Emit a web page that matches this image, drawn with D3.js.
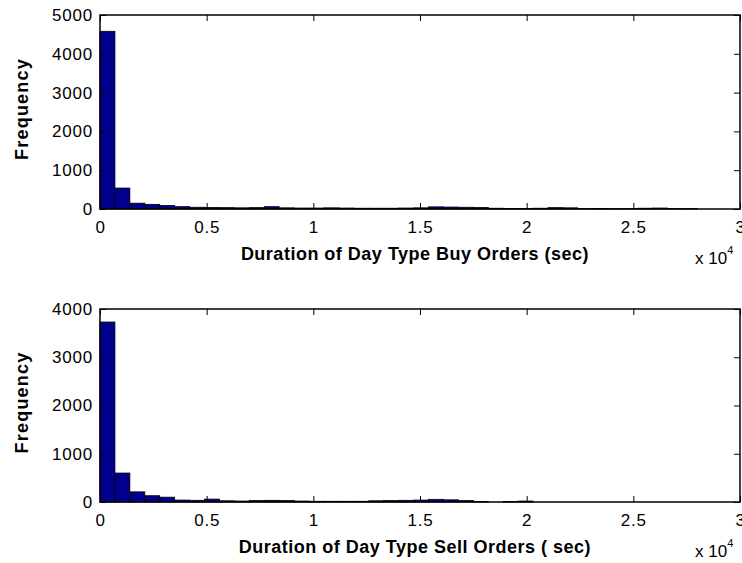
<!DOCTYPE html>
<html>
<head>
<meta charset="utf-8">
<script src="https://cdn.jsdelivr.net/npm/d3@7"></script>
<style>
  body { margin: 0; background: #fff; }
  svg text { font-family: "Liberation Sans", Arial, sans-serif; }
</style>
</head>
<body>
<svg id="chart" width="742" height="563"></svg>
<script>
// histogram bins: 700 sec wide, starting at 0
var binWidth = 700;

var buyCounts = [4580, 540, 150, 120, 90, 60, 45, 40, 35, 30,
                 35, 60, 30, 25, 25, 30, 25, 20, 20, 20,
                 25, 30, 55, 50, 45, 40, 20, 15, 15, 20,
                 35, 30, 10, 15, 10, 10, 20, 25, 10, 10];

var sellCounts = [3730, 600, 210, 130, 100, 40, 35, 60, 25, 20,
                  30, 35, 30, 20, 15, 15, 15, 15, 25, 30,
                  35, 40, 55, 45, 30, 10, 0, 10, 20, 0,
                  0, 0, 0, 0, 0, 0, 0, 0, 0, 0];

var xTicks = [0, 5000, 10000, 15000, 20000, 25000, 30000];
var xTickLabels = ["0", "0.5", "1", "1.5", "2", "2.5", "3"];

var panels = [
  {counts: buyCounts, ymax: 5000, yTicks: [0, 1000, 2000, 3000, 4000, 5000],
   label: "Duration of Day Type Buy Orders (sec)", top: 15, bottom: 209},
  {counts: sellCounts, ymax: 4000, yTicks: [0, 1000, 2000, 3000, 4000],
   label: "Duration of Day Type Sell Orders ( sec)", top: 309, bottom: 502}
];

var svg = d3.select("#chart"),
    left = 100, right = 740;

var x = d3.scaleLinear().domain([0, 30000]).range([left, right]);

panels.forEach(function(p) {
  var y = d3.scaleLinear().domain([0, p.ymax]).range([p.bottom, p.top]);
  var g = svg.append("g");

  var bins = p.counts.map(function(c, i) {
    return {x0: i * binWidth, x1: (i + 1) * binWidth, n: c};
  }).filter(function(b) { return b.n > 0; });

  g.selectAll(".bar")
    .data(bins)
  .enter().append("rect")
    .attr("class", "bar")
    .attr("x", function(d) { return x(d.x0); })
    .attr("width", function(d) { return x(d.x1) - x(d.x0); })
    .attr("y", function(d) { return y(d.n); })
    .attr("height", function(d) { return p.bottom - y(d.n); })
    .style("fill", "#00008c")
    .style("stroke", "#000")
    .style("stroke-width", 0.8);

  // box
  g.append("rect")
    .attr("x", left).attr("y", p.top)
    .attr("width", right - left).attr("height", p.bottom - p.top)
    .style("fill", "none").style("stroke", "#000").style("stroke-width", 1.5);

  var tickFont = function(sel) {
    sel.selectAll("path.domain").remove();
    sel.selectAll(".tick line").attr("stroke", "#000");
    sel.selectAll(".tick text")
      .attr("font-size", 17).attr("fill", "#000")
      .attr("letter-spacing", 0.8)
      .attr("font-family", "Liberation Sans, Arial, sans-serif");
  };

  g.append("g")
    .attr("transform", "translate(0," + p.bottom + ")")
    .call(d3.axisBottom(x).tickValues(xTicks)
      .tickFormat(function(d, i) { return xTickLabels[i]; })
      .tickSizeInner(-6).tickPadding(12))
    .call(tickFont);

  g.append("g")
    .attr("transform", "translate(0," + p.top + ")")
    .call(d3.axisTop(x).tickValues(xTicks).tickFormat("").tickSizeInner(-6))
    .call(tickFont);

  g.append("g")
    .attr("transform", "translate(" + left + ",0)")
    .call(d3.axisLeft(y).tickValues(p.yTicks).tickFormat(d3.format("d"))
      .tickSizeInner(-6).tickPadding(7))
    .call(tickFont);

  g.append("g")
    .attr("transform", "translate(" + right + ",0)")
    .call(d3.axisRight(y).tickValues(p.yTicks).tickFormat("").tickSizeInner(-6))
    .call(tickFont);

  g.append("text")
    .attr("x", 415).attr("y", p.bottom + 51)
    .attr("text-anchor", "middle")
    .attr("font-size", 18).attr("font-weight", "bold")
    .attr("letter-spacing", 0.5)
    .text(p.label);

  var mult = g.append("text")
    .attr("x", 695).attr("y", p.bottom + 55)
    .attr("font-size", 17);
  mult.append("tspan").text("x 10");
  mult.append("tspan").attr("dy", -10).attr("font-size", 11).text("4");

  g.append("text")
    .attr("transform", "translate(28," + ((p.top + p.bottom) / 2 - 3) + ") rotate(-90)")
    .attr("text-anchor", "middle")
    .attr("font-size", 18).attr("font-weight", "bold")
    .attr("letter-spacing", 1.2)
    .text("Frequency");
});
</script>
</body>
</html>
